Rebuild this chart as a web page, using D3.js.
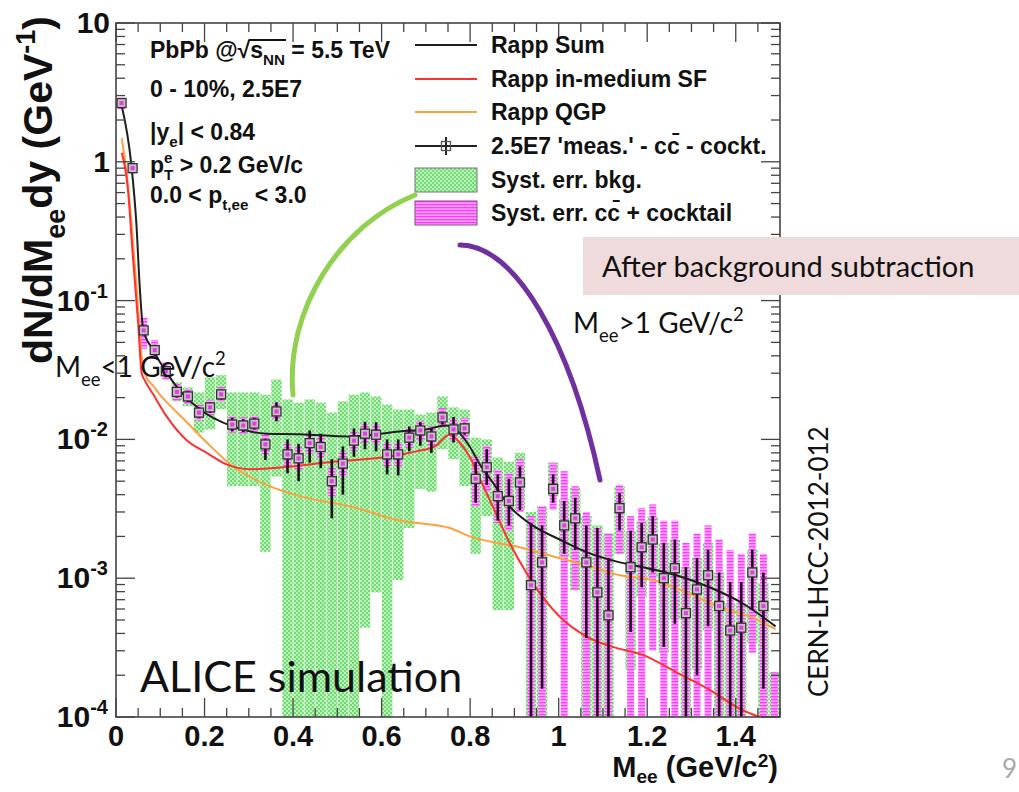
<!DOCTYPE html>
<html>
<head>
<meta charset="utf-8">
<script src="https://cdn.jsdelivr.net/npm/d3@7"></script>
<style>
  body { margin: 0; background: #fff; }
  svg { display: block; }
  .root-text { font-family: "Liberation Sans", Arial, Helvetica, sans-serif; font-weight: bold; fill: #111; }
  .slide-text { font-family: Lato, "Open Sans", sans-serif; fill: #111; }
</style>
</head>
<body>
<script>
const WIDTH = 1019;
const HEIGHT = 792;
const PLOT = { left: 116, right: 780, top: 23, bottom: 717 };
const Y_MIN = 1e-4;

// Measured spectrum, one entry per 25 MeV bin
const massBins = [0.0125, 0.0375, 0.0625, 0.0875, 0.1125, 0.1375, 0.1625, 0.1875, 0.2125, 0.2375,
  0.2625, 0.2875, 0.3125, 0.3375, 0.3625, 0.3875, 0.4125, 0.4375, 0.4625, 0.4875,
  0.5125, 0.5375, 0.5625, 0.5875, 0.6125, 0.6375, 0.6625, 0.6875, 0.7125, 0.7375,
  0.7625, 0.7875, 0.8125, 0.8375, 0.8625, 0.8875, 0.9125, 0.9375, 0.9625, 0.9875,
  1.0125, 1.0375, 1.0625, 1.0875, 1.1125, 1.1375, 1.1625, 1.1875, 1.2125, 1.2375,
  1.2625, 1.2875, 1.3125, 1.3375, 1.3625, 1.3875, 1.4125, 1.4375, 1.4625, 1.4875];

const yields = [2.65, 0.90, 0.061, 0.044, 0.031, 0.022, 0.0204, 0.0156, 0.017, 0.0211,
  0.0128, 0.0126, 0.013, 0.0092, 0.0159, 0.0078, 0.0073, 0.0094, 0.0088, 0.0050,
  0.0067, 0.0098, 0.0110, 0.0108, 0.0078, 0.0078, 0.0103, 0.0116, 0.0105, 0.0144,
  0.0118, 0.0120, 0.0052, 0.0063, 0.0039, 0.0036, 0.0049, 0.00089, 0.0013, 0.0044,
  0.0024, 0.0027, 0.0013, 0.00079, 0.00054, 0.0032, 0.0012, 0.00167, 0.0019, 0.0010,
  0.00118, 0.00056, 0.00083, 0.00105, 0.00063, 0.00042, 0.00044, 0.0011, 0.00063, null];

// statistical error bar ends
const statLow = [2.5, 0.85, 0.056, 0.040, 0.028, 0.020, 0.0186, 0.0142, 0.0155, 0.0193,
  0.0114, 0.0113, 0.0118, 0.0071, 0.0135, 0.0057, 0.0050, 0.0068, 0.0062, 0.0027,
  0.0040, 0.0075, 0.0085, 0.0082, 0.0056, 0.0055, 0.0082, 0.0090, 0.0080, 0.0128,
  0.0095, 0.0108, 0.0035, 0.0047, 0.0026, 0.0024, 0.0031, 0.0001, 0.00016, 0.0035,
  0.0015, 0.0016, 0.00037, 0.0001, 0.0001, 0.0022, 0.00041, 0.00086, 0.0011, 0.00032,
  0.00047, 0.0001, 0.0002, 0.00045, 0.0001, 0.0001, 0.0001, 0.00059, 0.00016, null];
const statHigh = [2.8, 0.95, 0.066, 0.048, 0.034, 0.024, 0.0222, 0.0170, 0.0185, 0.0229,
  0.0143, 0.0140, 0.0143, 0.0101, 0.0185, 0.0100, 0.0093, 0.0116, 0.0110, 0.0072,
  0.0089, 0.0120, 0.0134, 0.0133, 0.0100, 0.0100, 0.0124, 0.0133, 0.0120, 0.0157,
  0.0145, 0.0132, 0.0069, 0.0085, 0.0056, 0.0052, 0.0064, 0.0025, 0.0024, 0.0056,
  0.0036, 0.0038, 0.0024, 0.0023, 0.0014, 0.0041, 0.0022, 0.0025, 0.0028, 0.0018,
  0.0019, 0.0012, 0.0014, 0.0016, 0.0011, 0.00094, 0.00094, 0.0016, 0.0011, null];

// systematic error from background subtraction (green)
const bkgLow = [null, null, null, null, null, 0.0188, 0.0173, 0.0112, 0.0118, 0.0165,
  0.0046, 0.0046, 0.0046, 0.00155, 0.0054, 0.0001, 0.0001, 0.0001, 0.0001, 0.0001,
  0.0001, 0.0001, 0.00044, 0.00079, 0.0001, 0.00097, 0.0023, 0.0044, 0.0042, 0.0085,
  0.0072, 0.0046, 0.0015, 0.0028, 0.00059, 0.00059, 0.0031, 0.0001, 0.0001, 0.0039,
  0.0014, 0.00082, 0.0001, 0.0001, 0.0001, 0.0015, 0.00022, 0.00073, 0.0010, 0.00029,
  0.0005, 0.0001, 0.00022, 0.00042, 0.0001, 0.0001, 0.0001, 0.00034, 0.0001, 0.0001];
const bkgHigh = [null, null, null, null, null, 0.0257, 0.0237, 0.0218, 0.028, 0.029,
  0.0218, 0.0218, 0.0218, 0.021, 0.027, 0.0194, 0.0184, 0.0194, 0.0184, 0.0156,
  0.0188, 0.021, 0.0218, 0.0204, 0.0178, 0.0164, 0.0164, 0.0151, 0.0156, 0.0204,
  0.017, 0.0164, 0.0103, 0.0100, 0.0074, 0.0069, 0.0080, 0.0030, 0.0033, 0.0068,
  0.0037, 0.0045, 0.0028, 0.0024, 0.0021, 0.0046, 0.0022, 0.0026, 0.0028, 0.0018,
  0.0019, 0.0012, 0.0014, 0.0018, 0.0011, 0.00066, 0.00066, 0.0016, 0.00092, 0.00021];

// systematic error from c-cbar + cocktail (magenta)
const ccLow = [2.4, 0.82, 0.045, 0.038, 0.027, 0.019, 0.018, 0.0137, 0.015, 0.0187,
  0.0112, 0.011, 0.0114, 0.0078, 0.0138, 0.0064, 0.006, 0.0079, 0.0073, 0.0039,
  0.0054, 0.0083, 0.0094, 0.0092, 0.0064, 0.0064, 0.0087, 0.0098, 0.0088, 0.0122,
  0.0098, 0.0100, 0.0033, 0.0042, 0.0025, 0.0022, 0.003, 0.0001, 0.0001, 0.0031,
  0.0001, 0.00082, 0.0001, 0.0001, 0.0001, 0.0015, 0.0001, 0.0001, 0.0003, 0.0001,
  0.0001, 0.0001, 0.0001, 0.0001, 0.0001, 0.0001, 0.0001, 0.00029, 0.0001, 0.0001];
const ccHigh = [2.9, 0.98, 0.075, 0.052, 0.036, 0.025, 0.023, 0.0178, 0.0193, 0.0238,
  0.0146, 0.0144, 0.0148, 0.0108, 0.0182, 0.0094, 0.0088, 0.011, 0.0105, 0.0063,
  0.0082, 0.0115, 0.0129, 0.0127, 0.0094, 0.0094, 0.0121, 0.0136, 0.0124, 0.0168,
  0.0141, 0.0143, 0.0075, 0.009, 0.006, 0.0057, 0.0072, 0.0028, 0.0033, 0.0068,
  0.0059, 0.0046, 0.0030, 0.0023, 0.0021, 0.0047, 0.0028, 0.0032, 0.0034, 0.0026,
  0.0026, 0.0018, 0.0021, 0.0024, 0.0019, 0.0016, 0.0015, 0.0021, 0.0015, 0.00021];

// Rapp model curves
const sumMass = [0.0125, 0.035, 0.046, 0.054, 0.0615, 0.083, 0.114, 0.137, 0.19, 0.263,
  0.34, 0.415, 0.528, 0.641, 0.70, 0.745, 0.76, 0.776, 0.799, 0.822,
  0.851, 0.889, 0.941, 1.002, 1.063, 1.138, 1.19, 1.266, 1.341, 1.415, 1.49];
const sumYield = [2.57, 0.93, 0.36, 0.12, 0.062, 0.0445, 0.0304, 0.024, 0.0164, 0.0124,
  0.011, 0.0109, 0.0105, 0.0114, 0.0118, 0.0126, 0.0122, 0.0111, 0.0089, 0.0066,
  0.0049, 0.0033, 0.0024, 0.0019, 0.00154, 0.0013, 0.0012, 0.00105, 0.00086, 0.00066, 0.00045];

const medMass = [0.013, 0.027, 0.038, 0.05, 0.058, 0.065, 0.083, 0.114, 0.159, 0.205,
  0.25, 0.302, 0.377, 0.49, 0.6, 0.679, 0.72, 0.754, 0.776, 0.799,
  0.822, 0.851, 0.889, 0.928, 0.964, 1.002, 1.063, 1.122, 1.19, 1.266,
  1.341, 1.402, 1.43, 1.46, 1.5];
const medYield = [1.16, 0.63, 0.21, 0.069, 0.030, 0.0266, 0.0214, 0.0147, 0.0099, 0.0080,
  0.0066, 0.0061, 0.0063, 0.0069, 0.0074, 0.0082, 0.0089, 0.0108, 0.0095, 0.0075,
  0.0052, 0.0033, 0.0018, 0.00108, 0.00073, 0.00053, 0.00038, 0.00032, 0.00028, 0.00021,
  0.000157, 0.000118, 0.000107, 0.0001, 0.0001];

const qgpMass = [0.013, 0.024, 0.035, 0.047, 0.058, 0.069, 0.083, 0.099, 0.115, 0.16,
  0.205, 0.264, 0.34, 0.415, 0.528, 0.641, 0.754, 0.799, 0.912, 0.986,
  1.063, 1.138, 1.212, 1.289, 1.363, 1.438, 1.49];
const qgpYield = [1.48, 0.83, 0.36, 0.12, 0.0395, 0.028, 0.0245, 0.021, 0.0185, 0.0133,
  0.0095, 0.0064, 0.0047, 0.0039, 0.0033, 0.0026, 0.0023, 0.0020, 0.00167, 0.00144,
  0.00124, 0.00105, 0.00097, 0.00079, 0.00062, 0.00052, 0.00043];

// axis ticks
const xMajorTicks = [0, 0.2, 0.4, 0.6, 0.8, 1.0, 1.2, 1.4];
const xTickLabels = ["0", "0.2", "0.4", "0.6", "0.8", "1", "1.2", "1.4"];
const xMinorTicks = [0.05, 0.1, 0.15, 0.25, 0.3, 0.35, 0.45, 0.5, 0.55, 0.65, 0.7, 0.75,
  0.85, 0.9, 0.95, 1.05, 1.1, 1.15, 1.25, 1.3, 1.35, 1.45, 1.5];
const yDecadeExps = [1, 0, -1, -2, -3, -4];

const COLORS = {
  sum: "#1e1e1e",
  medium: "#ff3030",
  qgp: "#ffa040",
  frame: "#444",
  arcGreen: "#92d050",
  arcPurple: "#7030a0",
  note: "#efdbdb"
};

const svg = d3.select("body").append("svg")
  .attr("width", WIDTH)
  .attr("height", HEIGHT);

const x = d3.scaleLinear().domain([0, 1.5]).range([PLOT.left, PLOT.right]);
const y = d3.scaleLog().domain([Y_MIN, 10]).range([PLOT.bottom, PLOT.top]);
const yc = v => y(Math.max(v, Y_MIN));

// patterns for the systematic boxes
const defs = svg.append("defs");
const green = defs.append("pattern").attr("id", "bkgPat")
  .attr("patternUnits", "userSpaceOnUse").attr("width", 4).attr("height", 4);
green.append("rect").attr("width", 4).attr("height", 4).attr("fill", "#6fdc6f");
green.append("circle").attr("cx", 1).attr("cy", 1).attr("r", 0.9).attr("fill", "#e6fbe6");
green.append("circle").attr("cx", 3).attr("cy", 3).attr("r", 0.9).attr("fill", "#e6fbe6");

const magenta = defs.append("pattern").attr("id", "ccPat")
  .attr("patternUnits", "userSpaceOnUse").attr("width", 4).attr("height", 3);
magenta.append("rect").attr("width", 4).attr("height", 3).attr("fill", "#ffa8ff");
magenta.append("rect").attr("width", 4).attr("height", 1.4).attr("fill", "#ff3cff");

defs.append("clipPath").attr("id", "plotClip")
  .append("rect")
  .attr("x", PLOT.left).attr("y", PLOT.top)
  .attr("width", PLOT.right - PLOT.left).attr("height", PLOT.bottom - PLOT.top);

const bins = massBins.map((m, i) => ({
  m, v: yields[i],
  sLo: statLow[i], sHi: statHigh[i],
  bLo: bkgLow[i], bHi: bkgHigh[i],
  cLo: ccLow[i], cHi: ccHigh[i]
}));

const dataG = svg.append("g").attr("clip-path", "url(#plotClip)");

// green background-subtraction systematics (full bin width)
const BKG_HALF = 5.2;
dataG.append("g").selectAll("rect")
  .data(bins.filter(d => d.bHi !== null))
  .join("rect")
  .attr("x", d => x(d.m) - BKG_HALF)
  .attr("width", BKG_HALF * 2)
  .attr("y", d => yc(d.bHi))
  .attr("height", d => yc(d.bLo) - yc(d.bHi))
  .attr("fill", "url(#bkgPat)");

// magenta c-cbar + cocktail systematics
const CC_HALF = 3.5;
dataG.append("g").selectAll("rect")
  .data(bins.filter(d => d.cHi !== null))
  .join("rect")
  .attr("x", d => x(d.m) - CC_HALF)
  .attr("width", CC_HALF * 2)
  .attr("y", d => yc(d.cHi))
  .attr("height", d => yc(d.cLo) - yc(d.cHi))
  .attr("fill", "url(#ccPat)");

// model curves
const line = d3.line()
  .x(d => x(d[0]))
  .y(d => yc(d[1]))
  .curve(d3.curveMonotoneX);

const curves = [
  { mass: qgpMass, yield: qgpYield, color: COLORS.qgp },
  { mass: medMass, yield: medYield, color: COLORS.medium },
  { mass: sumMass, yield: sumYield, color: COLORS.sum }
];
dataG.append("g").selectAll("path")
  .data(curves)
  .join("path")
  .attr("d", c => line(c.mass.map((m, i) => [m, c.yield[i]])))
  .attr("fill", "none")
  .attr("stroke", c => c.color)
  .attr("stroke-width", 2);

// statistical error bars and markers
const points = bins.filter(d => d.v !== null);
dataG.append("g").selectAll("line")
  .data(points)
  .join("line")
  .attr("x1", d => x(d.m)).attr("x2", d => x(d.m))
  .attr("y1", d => yc(d.sHi)).attr("y2", d => yc(d.sLo))
  .attr("stroke", "#1c101c")
  .attr("stroke-width", 2.6);

const MARK = 9;
const marks = dataG.append("g").selectAll("g")
  .data(points)
  .join("g")
  .attr("transform", d => `translate(${x(d.m)},${yc(d.v)})`);
marks.append("rect")
  .attr("x", -MARK / 2).attr("y", -MARK / 2)
  .attr("width", MARK).attr("height", MARK)
  .attr("fill", "#cdbccd")
  .attr("stroke", "#333")
  .attr("stroke-width", 1.3);
marks.append("rect")
  .attr("x", -2).attr("y", -2).attr("width", 4).attr("height", 4)
  .attr("fill", "#e23ee2");

// frame and ticks
const axisG = svg.append("g");
axisG.append("rect")
  .attr("x", PLOT.left).attr("y", PLOT.top)
  .attr("width", PLOT.right - PLOT.left).attr("height", PLOT.bottom - PLOT.top)
  .attr("fill", "none").attr("stroke", COLORS.frame).attr("stroke-width", 1.6);

function xTick(v, len) {
  axisG.append("line").attr("x1", x(v)).attr("x2", x(v))
    .attr("y1", PLOT.bottom).attr("y2", PLOT.bottom - len)
    .attr("stroke", COLORS.frame).attr("stroke-width", 1.3);
  axisG.append("line").attr("x1", x(v)).attr("x2", x(v))
    .attr("y1", PLOT.top).attr("y2", PLOT.top + len)
    .attr("stroke", COLORS.frame).attr("stroke-width", 1.3);
}
function yTick(v, len) {
  axisG.append("line").attr("x1", PLOT.left).attr("x2", PLOT.left + len)
    .attr("y1", y(v)).attr("y2", y(v))
    .attr("stroke", COLORS.frame).attr("stroke-width", 1.3);
  axisG.append("line").attr("x1", PLOT.right).attr("x2", PLOT.right - len)
    .attr("y1", y(v)).attr("y2", y(v))
    .attr("stroke", COLORS.frame).attr("stroke-width", 1.3);
}
xMajorTicks.forEach(v => xTick(v, 19));
xMinorTicks.forEach(v => xTick(v, 9));
yDecadeExps.forEach(e => {
  yTick(Math.pow(10, e), 19);
  if (e < 1) d3.range(2, 10).forEach(k => yTick(k * Math.pow(10, e), 9));
});

// tick labels
axisG.selectAll(".xlab")
  .data(xMajorTicks)
  .join("text")
  .attr("class", "root-text")
  .attr("x", d => x(d))
  .attr("y", PLOT.bottom + 29)
  .attr("text-anchor", "middle")
  .attr("font-size", 29)
  .text((d, i) => xTickLabels[i]);

yDecadeExps.forEach(e => {
  const t = axisG.append("text").attr("class", "root-text")
    .attr("x", e >= 0 ? 110 : 108)
    .attr("y", y(Math.pow(10, e)) + 10)
    .attr("text-anchor", "end")
    .attr("font-size", 30);
  if (e === 1) t.text("10");
  else if (e === 0) t.text("1");
  else {
    t.append("tspan").text("10");
    t.append("tspan").attr("font-size", 20).attr("dy", -13).text(String(e));
  }
});

// helper for text with sub- and superscripts
function rich(sel, size, parts, subShift = 0.32, supShift = 0.42) {
  let shift = 0;
  parts.forEach(p => {
    const [str, mode, dx] = p;
    const target = mode === "sub" ? size * subShift : mode === "sup" ? -size * supShift : 0;
    const t = sel.append("tspan").attr("dy", target - shift).text(str);
    if (mode) t.attr("font-size", size * 0.66);
    if (dx) t.attr("dx", dx);
    shift = target;
  });
  return sel;
}

// axis titles
rich(svg.append("text").attr("class", "root-text")
  .attr("x", 778).attr("y", 777)
  .attr("text-anchor", "end").attr("font-size", 29), 29,
  [["M"], ["ee", "sub"], [" (GeV/c"], ["2", "sup"], [")"]], 0.22, 0.34);

rich(svg.append("text").attr("class", "root-text")
  .attr("transform", "translate(52,16) rotate(-90)")
  .attr("text-anchor", "end").attr("font-size", 41), 41,
  [["dN/dM"], ["ee", "sub"], ["dy (GeV"], ["-1", "sup"], [")"]]);

// collision info block
const info = svg.append("g").attr("class", "root-text").attr("font-size", 23);
const t0 = info.append("text").attr("x", 150).attr("y", 58);
rich(t0, 23, [["PbPb @"], ["\u221A"], ["s"], ["NN", "sub"], [" = 5.5 TeV"]]);
{
  const ts = t0.selectAll("tspan").nodes();
  const b2 = ts[3].getBBox();
  const b0 = ts[1].getBBox();
  info.append("line")
    .attr("x1", b0.x + b0.width - 2).attr("x2", b2.x + b2.width + 1)
    .attr("y1", b0.y + 3).attr("y2", b0.y + 3)
    .attr("stroke", "#111").attr("stroke-width", 1.8);
}
info.append("text").attr("x", 150).attr("y", 97).text("0 - 10%, 2.5E7");
rich(info.append("text").attr("x", 150).attr("y", 140), 23,
  [["|y"], ["e", "sub"], ["| < 0.84"]]);
rich(info.append("text").attr("x", 150).attr("y", 173), 23,
  [["p"], ["e", "sup"], ["T", "sub", -8.5], [" > 0.2 GeV/c"]]);
rich(info.append("text").attr("x", 150).attr("y", 203), 23,
  [["0.0 < p"], ["t,ee", "sub"], [" < 3.0"]]);

// legend
const LEG = { x1: 415, x2: 477, tx: 491, rows: [45, 79, 112, 146, 180, 213] };
const legendLabels = ["Rapp Sum", "Rapp in-medium SF", "Rapp QGP",
  "2.5E7 'meas.' - cc\u0304 - cockt.", "Syst. err. bkg.", "Syst. err. cc\u0304 + cocktail"];
const legend = svg.append("g");
[COLORS.sum, COLORS.medium, COLORS.qgp].forEach((c, i) => {
  legend.append("line").attr("x1", LEG.x1).attr("x2", LEG.x2)
    .attr("y1", LEG.rows[i]).attr("y2", LEG.rows[i])
    .attr("stroke", c).attr("stroke-width", 2);
});
legend.append("line").attr("x1", LEG.x1).attr("x2", LEG.x2)
  .attr("y1", LEG.rows[3]).attr("y2", LEG.rows[3])
  .attr("stroke", "#222").attr("stroke-width", 2);
legend.append("line").attr("x1", (LEG.x1 + LEG.x2) / 2).attr("x2", (LEG.x1 + LEG.x2) / 2)
  .attr("y1", LEG.rows[3] - 9).attr("y2", LEG.rows[3] + 9)
  .attr("stroke", "#222").attr("stroke-width", 2);
legend.append("rect").attr("x", (LEG.x1 + LEG.x2) / 2 - 4.5).attr("y", LEG.rows[3] - 4.5)
  .attr("width", 9).attr("height", 9)
  .attr("fill", "none").attr("stroke", "#555").attr("stroke-width", 1.3);
legend.append("rect").attr("x", LEG.x1).attr("y", LEG.rows[4] - 12)
  .attr("width", LEG.x2 - LEG.x1).attr("height", 24)
  .attr("fill", "url(#bkgPat)").attr("stroke", "#777").attr("stroke-width", 1);
legend.append("rect").attr("x", LEG.x1).attr("y", LEG.rows[5] - 12)
  .attr("width", LEG.x2 - LEG.x1).attr("height", 24)
  .attr("fill", "url(#ccPat)").attr("stroke", "#8a4a8a").attr("stroke-width", 1);
legend.selectAll("text")
  .data(legendLabels)
  .join("text")
  .attr("class", "root-text")
  .attr("font-size", 23)
  .attr("x", LEG.tx)
  .attr("y", (d, i) => LEG.rows[i] + 8)
  .text(d => d);

// slide annotations
const notes = svg.append("g");
notes.append("path")
  .attr("d", "M293,395 C285,310 340,225 415,195")
  .attr("fill", "none").attr("stroke", COLORS.arcGreen)
  .attr("stroke-width", 5).attr("stroke-linecap", "round");
notes.append("path")
  .attr("d", "M460,245 C515,245 570,340 600,480")
  .attr("fill", "none").attr("stroke", COLORS.arcPurple)
  .attr("stroke-width", 5).attr("stroke-linecap", "round");
notes.append("rect").attr("x", 583).attr("y", 237)
  .attr("width", 440).attr("height", 58).attr("fill", COLORS.note);
notes.append("text").attr("class", "slide-text")
  .attr("x", 602).attr("y", 277).attr("font-size", 29)
  .text("After background subtraction");
rich(notes.append("text").attr("class", "slide-text")
  .attr("x", 573).attr("y", 333).attr("font-size", 28), 28,
  [["M"], ["ee", "sub"], [">1 GeV/c"], ["2", "sup"]]);
rich(notes.append("text").attr("class", "slide-text")
  .attr("x", 55).attr("y", 377).attr("font-size", 28), 28,
  [["M"], ["ee", "sub"], ["<1 GeV/c"], ["2", "sup"]]);
notes.append("text").attr("class", "slide-text")
  .attr("x", 140).attr("y", 692).attr("font-size", 43)
  .text("ALICE simulation");
notes.append("text").attr("class", "slide-text")
  .attr("transform", "translate(828,697) rotate(-90)")
  .attr("font-size", 26)
  .text("CERN-LHCC-2012-012");
notes.append("text").attr("class", "slide-text")
  .attr("x", 1002).attr("y", 778).attr("font-size", 26)
  .style("fill", "#aaa")
  .text("9");
</script>
</body>
</html>
